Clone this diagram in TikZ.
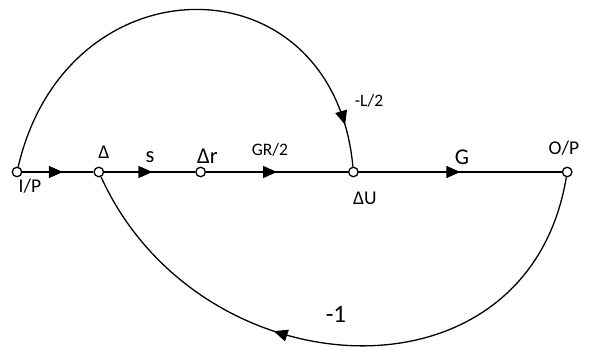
\documentclass[tikz,border=0pt]{standalone}
\usepackage{fontspec}
\setmainfont{Carlito}
\usetikzlibrary{arrows.meta, positioning, decorations.markings}
\tikzset{
  dot/.style={draw, circle, fill=white, line width=1.3pt, minimum size=9.5pt, inner sep=0pt},
  wire/.style={line width=1.3pt},
  midarrow/.style={postaction={decorate, decoration={markings,
      mark=at position #1 with {\arrow{Triangle[length=14pt, width=12pt]}}}}},
  smalltxt/.style={anchor=base, inner sep=0pt, font=\fontsize{17.5}{19}\selectfont},
  medtxt/.style={anchor=base, inner sep=0pt, font=\fontsize{19.5}{21}\selectfont},
  bigtxt/.style={anchor=base, inner sep=0pt, font=\fontsize{22.5}{24}\selectfont},
}

\begin{document}
\begin{tikzpicture}[x=1pt, y=1pt]
  \useasboundingbox (0,0) rectangle (589,347);
  % ---- nodes of the graph ----
  \node[dot] (ip) at (17,175) {};
  \node[dot, right=71pt of ip] (d) {};
  \node[dot, right=91pt of d] (dr) {};
  \node[dot, right=142pt of dr] (du) {};
  \node[dot, right=203pt of du] (op) {};

  % ---- labels ----
  \node[medtxt] (tip) at (30,154) {I/P};
  \node[medtxt] (td) at (104,188) {Δ};
  \node[bigtxt] (ts) at (150,184) {s};
  \node[bigtxt] (tdr) at (207.5,183) {Δr};
  \node[smalltxt] (tgr) at (270,191) {GR/2};
  \node[smalltxt] (tl) at (369,240) {-L/2};
  \node[medtxt] (tdu) at (365,142) {ΔU};
  \node[bigtxt] (tg) at (462,182) {G};
  \node[medtxt] (top) at (564,192) {O/P};
  \node[font=\fontsize{25}{27}\selectfont, anchor=base, inner sep=0pt] (tm) at (336,24) {-1};

  % ---- forward path ----
  \draw[wire, midarrow=0.57] (ip) -- (d);
  \draw[wire, midarrow=0.53] (d) -- (dr);
  \draw[wire, midarrow=0.5] (dr) -- (du);
  \draw[wire, midarrow=0.5] (du) -- (op);

  % ---- feed forward and feedback ----
  \draw[wire, midarrow=0.915] (ip) .. controls +(50,215) and +(-20,215) .. (du);
  \draw[wire, midarrow=0.615] (op) .. controls +(-40,-240) and +(100,-220) .. (d);
\end{tikzpicture}
\end{document}
